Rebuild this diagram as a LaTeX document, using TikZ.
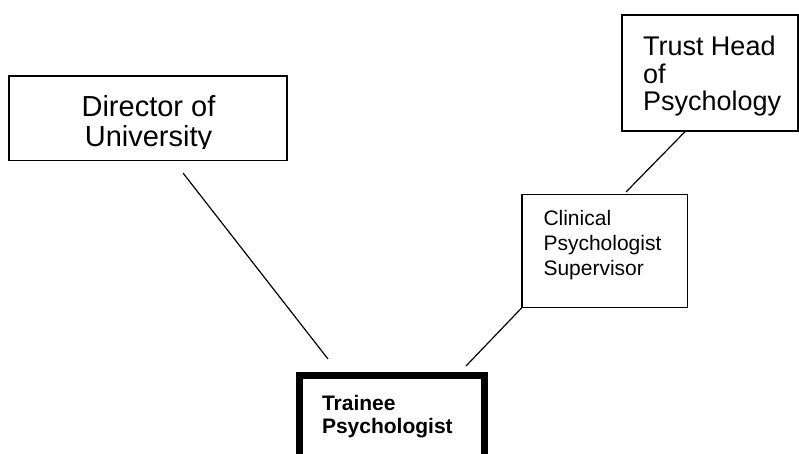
\documentclass[tikz,border=0pt]{standalone}
\usepackage{fontspec}
\setmainfont{Liberation Sans}
\begin{document}
\begin{tikzpicture}[x=1pt,y=-1pt,
  box/.style={draw=black,line width=1.5pt,inner sep=0pt,outer sep=0pt,fill=white},
  thickbox/.style={draw=black,line width=7pt,inner sep=0pt,outer sep=0pt},
  lbl/.style={inner sep=0pt,outer sep=0pt,align=left,anchor=north west},
  conn/.style={draw=black,line width=1.2pt}]
\useasboundingbox (0,0) rectangle (799,453);
\clip (0,0) rectangle (799,453);
% boxes
\node[box,minimum width=278pt,minimum height=84.5pt] (dir) at (148,118.25) {};
\node[box,minimum width=176pt,minimum height=116pt] (trust) at (710,73) {};
\node[box,minimum width=165.5pt,minimum height=113pt] (clin) at (604.75,251) {};
\node[thickbox,minimum width=185pt,minimum height=100pt] (trainee) at (391.5,425) {};
% texts
\begin{scope}
\clip (9,76) rectangle (287,148.5);
\node[inner sep=0pt,outer sep=0pt,align=center,anchor=north,
  font={\fontsize{29}{30}\selectfont}] (dirtext) at (148.5,93.3)
  {\rule{0pt}{0.8em}Director of\\University};
\end{scope}
\node[lbl,font={\fontsize{27}{27.5}\selectfont}] (trusttext) at (643,33.9)
  {\rule{0pt}{0.8em}Trust Head\\of\\Psychology};
\node[lbl,font={\fontsize{21}{25}\selectfont}] (clintext) at (543.5,208.9)
  {\rule{0pt}{0.8em}Clinical\\Psychologist\\Supervisor};
\node[lbl,font={\fontsize{21}{22.6}\selectfont\bfseries}] (traineetext) at (322,393.7)
  {\rule{0pt}{0.8em}Trainee\\Psychologist};
% connector ends
\coordinate (dA) at (183,173);
\coordinate (dB) at (328,359);
\coordinate (cA) at (clin.south west);
\coordinate (cB) at (466,366);
\coordinate (tA) at (685.7,131);
\coordinate (tB) at (626,192);
\draw[conn] (dA) -- (dB);
\draw[conn] (cA) -- (cB);
\draw[conn] (tA) -- (tB);
\end{tikzpicture}
\end{document}
